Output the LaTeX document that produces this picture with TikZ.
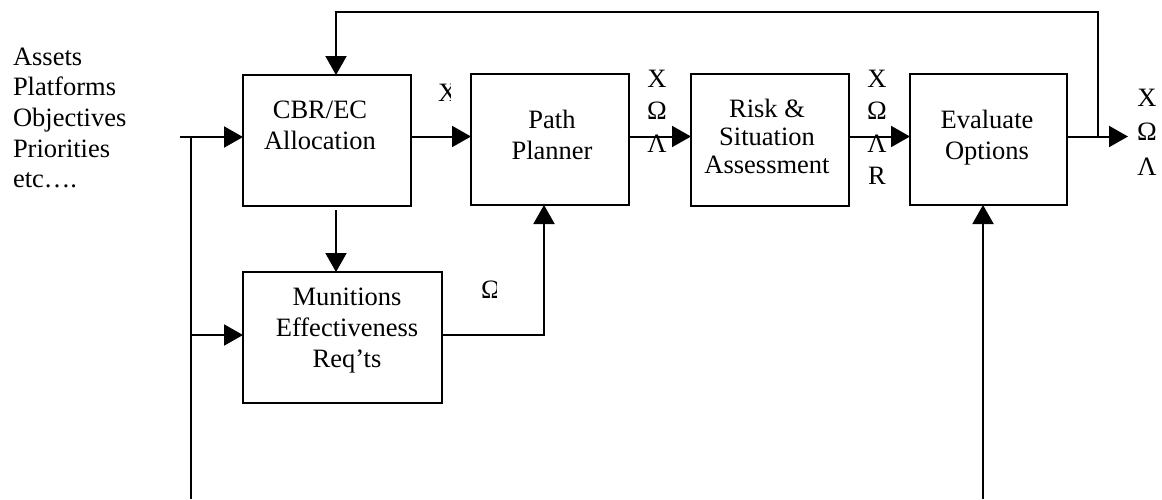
\documentclass[tikz,border=0pt]{standalone}
\usepackage{fontspec}
\setmainfont{Liberation Serif}
\usetikzlibrary{arrows.meta}
\newcommand\mlc[1]{\begin{tabular}[t]{@{}c@{}}#1\end{tabular}}
\newcommand\mll[1]{\begin{tabular}[t]{@{}l@{}}#1\end{tabular}}
\begin{document}
\begin{tikzpicture}[x=0.5pt,y=-0.5pt,
  box/.style={draw, line width=1pt, inner sep=0pt, outer sep=0pt},
  txt/.style={inner sep=0pt, outer sep=0pt, anchor=base, font=\fontsize{13.25}{15.5}\selectfont},
  lbl/.style={inner sep=0pt, outer sep=0pt, anchor=base, font=\fontsize{13.25}{16.25}\selectfont},
  arr/.style={line width=1pt, -{Triangle[length=9.5pt,width=10.5pt]}},
  ln/.style={line width=1pt}]
\useasboundingbox (0,0) rectangle (1162,499);

% boxes
\node[box, minimum width=84pt, minimum height=65.5pt] (cbr) at (327,140.5) {};
\node[box, minimum width=99.5pt, minimum height=65.5pt] (mun) at (342.5,337.5) {};
\node[box, minimum width=79pt, minimum height=65.5pt] (path) at (550,139.5) {};
\node[box, minimum width=79pt, minimum height=66pt] (risk) at (770,140) {};
\node[box, minimum width=78.5pt, minimum height=65.5pt] (eval) at (988.5,139.5) {};

% box texts
\node[txt] (cbrT) at (320,118) {\mlc{CBR/EC\\Allocation}};
\node[txt] (munT) at (347,305) {\mlc{Munitions\\Effectiveness\\Req’ts}};
\node[txt] (pathT) at (552,128) {\mlc{Path\\Planner}};
\node[txt, font=\fontsize{13.25}{14}\selectfont] (riskT) at (767,117) {\mlc{Risk \&\\Situation\\Assessment}};
\node[txt] (evalT) at (987,128) {\mlc{Evaluate\\Options}};

% left inputs text
\node[txt, anchor=base west, font=\fontsize{13.25}{15.35}\selectfont] (inputs) at (13,65)
  {\mll{Assets\\Platforms\\Objectives\\Priorities\\etc….}};

% signal labels
\node[lbl] (pathL) at (657,87) {\mlc{X\\Ω\\Λ}};
\node[lbl] (riskL) at (877,87) {\mlc{X\\Ω\\Λ\\R}};
\node[lbl, font=\fontsize{13.25}{17.25}\selectfont] (outL) at (1147,106) {\mlc{X\\Ω\\Λ}};
\begin{scope}
  \clip (0,0) rectangle (450,499);
  \node[lbl, anchor=base west] (xcut) at (438,101) {X};
\end{scope}
\begin{scope}
  \clip (0,0) rectangle (496,499);
  \node[lbl, anchor=base west] (ocut) at (481,298) {Ω};
\end{scope}

% helper coordinates
\coordinate (hIn) at (180,137);
\coordinate (hA) at (0,136.5);
\coordinate (vT) at (191,137);
\coordinate (vB) at (191,499);
\coordinate (mIn) at (191,335);
\coordinate (outE) at (1128,136.5);
\coordinate (fb1) at (1098,136.5);
\coordinate (fb2) at (1098,12);
\coordinate (fb3) at (336,12);
\coordinate (cd) at (336,210);
\coordinate (mp) at (544,335);
\coordinate (eb) at (983,499);

% connectors
\draw[arr] (hIn) -- (hIn -| cbr.west);
\draw[ln] (vT) -- (vB);
\draw[arr] (mIn) -- (mIn -| mun.west);
\draw[arr] (cbr.east |- hA) -- (path.west |- hA);
\draw[arr] (path.east |- hA) -- (risk.west |- hA);
\draw[arr] (risk.east |- hA) -- (eval.west |- hA);
\draw[arr] (eval.east |- outE) -- (outE);
\draw[arr] (fb1) -- (fb2) -- (fb3) -- (fb3 |- cbr.north);
\draw[arr] (cd) -- (cd |- mun.north);
\draw[arr] (mun.east |- mp) -- (mp) -- (mp |- path.south);
\draw[arr] (eb) -- (eb |- eval.south);
\end{tikzpicture}
\end{document}
